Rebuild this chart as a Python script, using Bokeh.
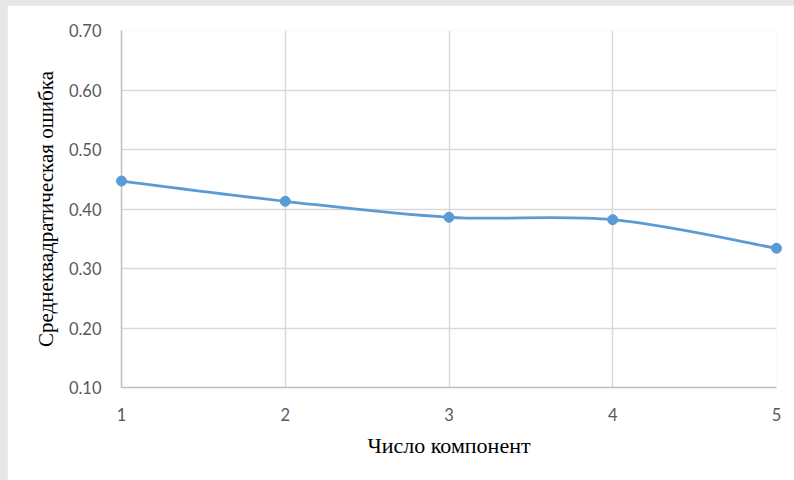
import numpy as np
from bokeh.plotting import figure
from bokeh.layouts import column
from bokeh.models import FixedTicker, Range1d, CustomJSTickFormatter
from bokeh.embed import file_html
from bokeh.resources import INLINE

# Number of components vs. RMS error
components = [1, 2, 3, 4, 5]
rmse = [0.447, 0.413, 0.386, 0.382, 0.334]

y_ticks = [0.10, 0.20, 0.30, 0.40, 0.50, 0.60, 0.70]
x_ticks = [1, 2, 3, 4, 5]

LINE = "#5b9bd5"
GRID = "#d9d9d9"
AXIS = "#bfbfbf"
TICK_TXT = "#595959"

p = figure(width=787, height=475, output_backend="svg", toolbar_location=None,
           x_range=Range1d(1, 5), y_range=Range1d(0.10, 0.70),
           min_border_left=114, min_border_right=18,
           min_border_top=25, min_border_bottom=93,
           background_fill_color="white", border_fill_color="white")
p.margin = (5, 0, 0, 7)
p.outline_line_color = None

# grids
p.xgrid.ticker = FixedTicker(ticks=x_ticks)
p.ygrid.ticker = FixedTicker(ticks=y_ticks)
for g in (p.xgrid, p.ygrid):
    g.grid_line_color = GRID
    g.grid_line_width = 1.5

# axes
p.xaxis.ticker = FixedTicker(ticks=x_ticks)
p.yaxis.ticker = FixedTicker(ticks=y_ticks)
p.yaxis.formatter = CustomJSTickFormatter(code="return tick.toFixed(2);")
for ax in (p.xaxis, p.yaxis):
    ax.axis_line_color = AXIS
    ax.axis_line_width = 1.5
    ax.major_tick_line_color = None
    ax.minor_tick_line_color = None
    ax.major_label_text_color = TICK_TXT
    ax.major_label_text_font = "Lato"
    ax.major_label_text_font_size = "16.5px"
    ax.major_label_standoff = 14
    ax.axis_label_text_font = "Liberation Serif"
    ax.axis_label_text_font_style = "normal"
    ax.axis_label_text_color = "black"

p.xaxis.axis_label = "Число компонент"
p.yaxis.axis_label = "Среднеквадратическая ошибка"
p.xaxis.axis_label_text_font_size = "22px"
p.yaxis.axis_label_text_font_size = "21px"
p.xaxis.axis_label_standoff = 9
p.yaxis.axis_label_standoff = 8

# smooth curve through the points (cubic Bezier segments, Catmull-Rom tangents)
xs = np.array(components, dtype=float)
ys = np.array(rmse, dtype=float)
xp = np.concatenate([[xs[0]], xs, [xs[-1]]])
yp = np.concatenate([[ys[0]], ys, [ys[-1]]])
n = len(xs) - 1
x0, y0 = xs[:-1], ys[:-1]
x1, y1 = xs[1:], ys[1:]
cx0 = x0 + (xp[2:n + 2] - xp[0:n]) / 6.0
cy0 = y0 + (yp[2:n + 2] - yp[0:n]) / 6.0
cx1 = x1 - (xp[3:n + 3] - xp[1:n + 1]) / 6.0
cy1 = y1 - (yp[3:n + 3] - yp[1:n + 1]) / 6.0
p.bezier(x0=x0, y0=y0, x1=x1, y1=y1, cx0=cx0, cy0=cy0, cx1=cx1, cy1=cy1,
         line_color=LINE, line_width=2.75, level="overlay")

p.scatter(components, rmse, size=10, fill_color=LINE, line_color=LINE,
          level="overlay")

page = column(p, width=794, height=480,
              styles={"background-color": "#e6e6e6"})

open("out.html", "w").write(file_html(page, INLINE))
